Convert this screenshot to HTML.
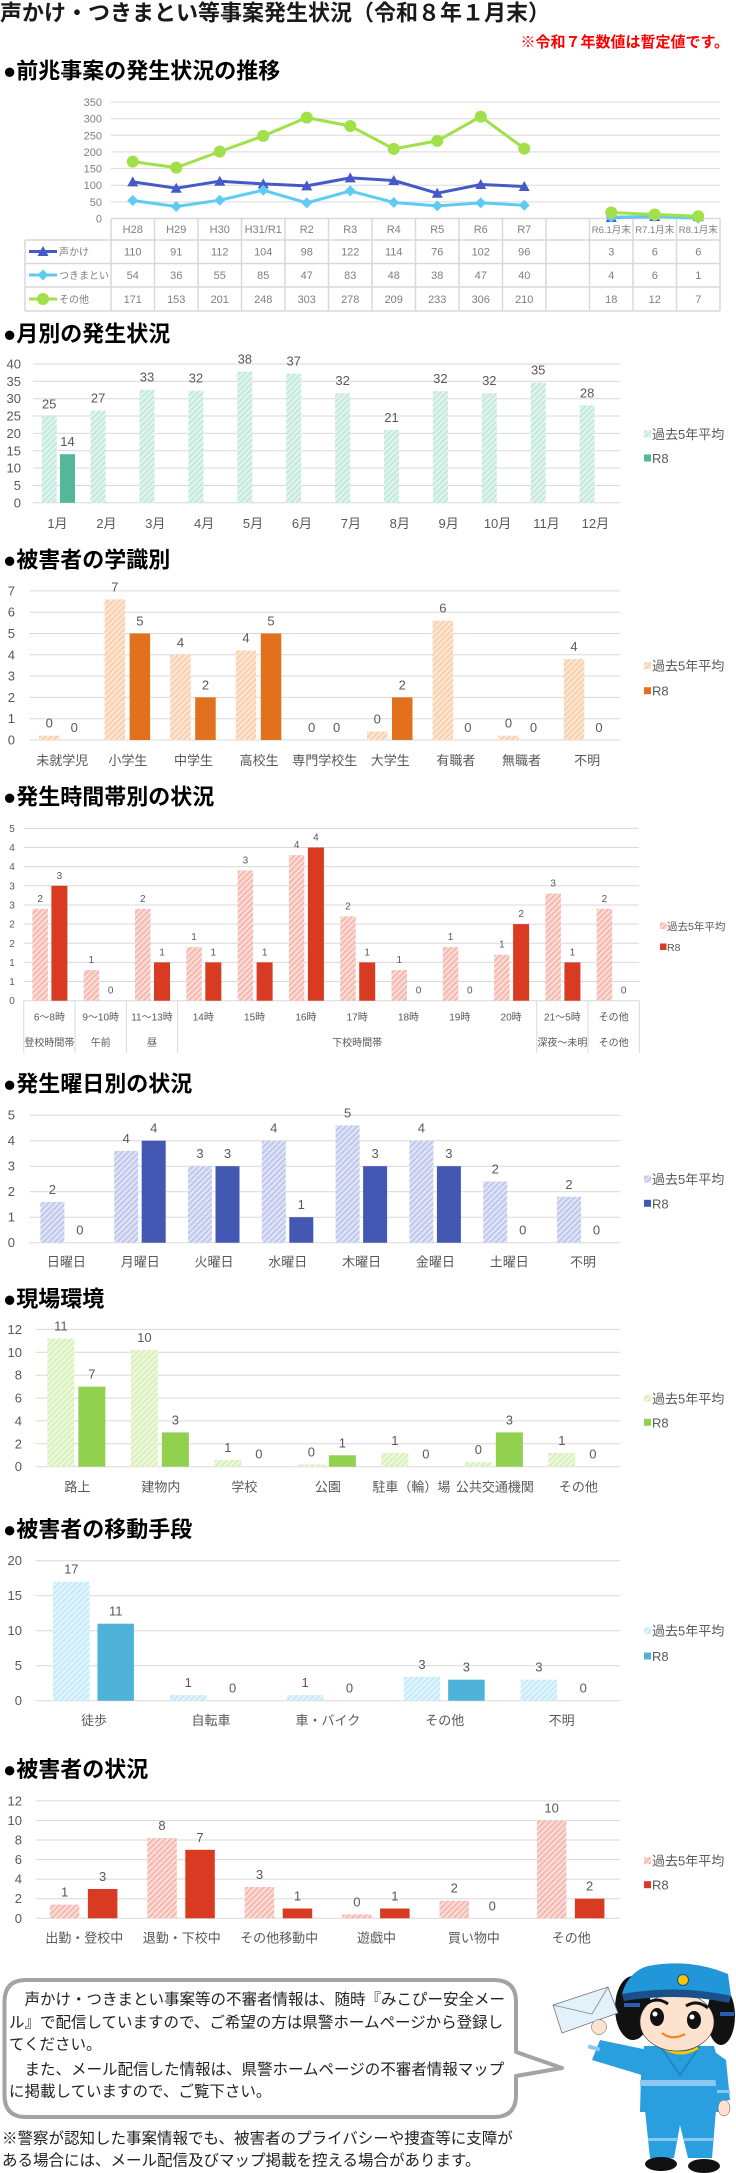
<!DOCTYPE html>
<html lang="ja">
<head>
<meta charset="utf-8">
<style>
html,body{margin:0;padding:0;background:#fff;}
body{width:736px;height:2173px;overflow:hidden;}
svg{display:block;}
text{font-family:"Liberation Sans","Noto Sans CJK JP",sans-serif;}
.h{font-size:22px;font-weight:700;fill:#000;}
.l{font-size:13px;fill:#595959;}
.s{font-size:10px;fill:#595959;}
.c1{font-size:11px;fill:#7f7f7f;}
.gl{stroke:#d9d9d9;stroke-width:1;}
.tb{stroke:#d9d9d9;stroke-width:1.5;fill:none;}
.b{font-size:15.5px;fill:#222;}
</style>
</head>
<body>
<svg width="736" height="2173" viewBox="0 0 736 2173" xmlns="http://www.w3.org/2000/svg">
<defs>
<pattern id="pG" width="4" height="4" patternUnits="userSpaceOnUse" patternTransform="rotate(45)"><rect width="4" height="4" fill="#e6f6f0"/><rect width="2.2" height="4" fill="#c2eadc"/></pattern>
<pattern id="pO" width="4" height="4" patternUnits="userSpaceOnUse" patternTransform="rotate(45)"><rect width="4" height="4" fill="#fdeadb"/><rect width="2.2" height="4" fill="#fad0ad"/></pattern>
<pattern id="pP" width="4" height="4" patternUnits="userSpaceOnUse" patternTransform="rotate(45)"><rect width="4" height="4" fill="#fbe1dd"/><rect width="2.2" height="4" fill="#f5b9b0"/></pattern>
<pattern id="pB" width="4" height="4" patternUnits="userSpaceOnUse" patternTransform="rotate(45)"><rect width="4" height="4" fill="#e4e8f8"/><rect width="2.2" height="4" fill="#c0c8ed"/></pattern>
<pattern id="pL" width="4" height="4" patternUnits="userSpaceOnUse" patternTransform="rotate(45)"><rect width="4" height="4" fill="#f0f9e3"/><rect width="2.2" height="4" fill="#d9f1ba"/></pattern>
<pattern id="pS" width="4" height="4" patternUnits="userSpaceOnUse" patternTransform="rotate(45)"><rect width="4" height="4" fill="#e7f6fd"/><rect width="2.2" height="4" fill="#c5eafa"/></pattern>
<marker id="mT" markerWidth="12" markerHeight="12" refX="6" refY="6" markerUnits="userSpaceOnUse"><path d="M6,0.5 L11.5,10.5 L0.5,10.5 Z" fill="#4659c6"/></marker>
<marker id="mD" markerWidth="12" markerHeight="12" refX="6" refY="6" markerUnits="userSpaceOnUse"><path d="M6,0.5 L11.5,6 L6,11.5 L0.5,6 Z" fill="#5ecbf3"/></marker>
<marker id="mC" markerWidth="14" markerHeight="14" refX="7" refY="7" markerUnits="userSpaceOnUse"><circle cx="7" cy="7" r="6" fill="#a2e04a"/></marker>
</defs>

<!-- Title -->
<text x="0" y="20.5" font-size="22" font-weight="700" fill="#1a1a1a">声かけ・つきまとい等事案発生状況（令和８年１月末）</text>
<text x="729" y="47" font-size="15" font-weight="700" fill="#ff0000" text-anchor="end">※令和７年数値は暫定値です。</text>

<!-- ===== Chart 1 ===== -->
<text class="h" x="3" y="78.5">●前兆事案の発生状況の推移</text>
<g class="gl">
<line x1="111" y1="201.9" x2="720" y2="201.9"/><line x1="111" y1="185.2" x2="720" y2="185.2"/>
<line x1="111" y1="168.6" x2="720" y2="168.6"/><line x1="111" y1="151.9" x2="720" y2="151.9"/>
<line x1="111" y1="135.3" x2="720" y2="135.3"/><line x1="111" y1="118.7" x2="720" y2="118.7"/>
<line x1="111" y1="102" x2="720" y2="102"/>
</g>
<g class="c1" text-anchor="end">
<text x="102" y="222.5">0</text><text x="102" y="205.9">50</text><text x="102" y="189.2">100</text>
<text x="102" y="172.6">150</text><text x="102" y="155.9">200</text><text x="102" y="139.3">250</text>
<text x="102" y="122.7">300</text><text x="102" y="106">350</text>
</g>
<!-- table -->
<g class="tb">
<line x1="111" y1="218.5" x2="720" y2="218.5"/>
<line x1="25" y1="240" x2="720" y2="240"/>
<line x1="25" y1="263.5" x2="720" y2="263.5"/>
<line x1="25" y1="287" x2="720" y2="287"/>
<line x1="25" y1="311" x2="720" y2="311"/>
<line x1="25" y1="240" x2="25" y2="311"/>
<line x1="111" y1="218.5" x2="111" y2="311"/><line x1="154.5" y1="218.5" x2="154.5" y2="311"/>
<line x1="198" y1="218.5" x2="198" y2="311"/><line x1="241.5" y1="218.5" x2="241.5" y2="311"/>
<line x1="285" y1="218.5" x2="285" y2="311"/><line x1="328.5" y1="218.5" x2="328.5" y2="311"/>
<line x1="372" y1="218.5" x2="372" y2="311"/><line x1="415.5" y1="218.5" x2="415.5" y2="311"/>
<line x1="459" y1="218.5" x2="459" y2="311"/><line x1="502.5" y1="218.5" x2="502.5" y2="311"/>
<line x1="546" y1="218.5" x2="546" y2="311"/><line x1="589.5" y1="218.5" x2="589.5" y2="311"/>
<line x1="633" y1="218.5" x2="633" y2="311"/><line x1="676.5" y1="218.5" x2="676.5" y2="311"/>
<line x1="720" y1="218.5" x2="720" y2="311"/>
</g>
<g class="c1" text-anchor="middle">
<text x="132.75" y="233">H28</text><text x="176.25" y="233">H29</text><text x="219.75" y="233">H30</text>
<text x="263.25" y="233">H31/R1</text><text x="306.75" y="233">R2</text><text x="350.25" y="233">R3</text>
<text x="393.75" y="233">R4</text><text x="437.25" y="233">R5</text><text x="480.75" y="233">R6</text>
<text x="524.25" y="233">R7</text>
<text x="611.25" y="233" font-size="9.5">R6.1月末</text><text x="654.75" y="233" font-size="9.5">R7.1月末</text><text x="698.25" y="233" font-size="9.5">R8.1月末</text>
</g>
<g class="c1" text-anchor="middle">
<text x="132.75" y="255.5">110</text><text x="176.25" y="255.5">91</text><text x="219.75" y="255.5">112</text><text x="263.25" y="255.5">104</text><text x="306.75" y="255.5">98</text><text x="350.25" y="255.5">122</text><text x="393.75" y="255.5">114</text><text x="437.25" y="255.5">76</text><text x="480.75" y="255.5">102</text><text x="524.25" y="255.5">96</text><text x="611.25" y="255.5">3</text><text x="654.75" y="255.5">6</text><text x="698.25" y="255.5">6</text>
<text x="132.75" y="279">54</text><text x="176.25" y="279">36</text><text x="219.75" y="279">55</text><text x="263.25" y="279">85</text><text x="306.75" y="279">47</text><text x="350.25" y="279">83</text><text x="393.75" y="279">48</text><text x="437.25" y="279">38</text><text x="480.75" y="279">47</text><text x="524.25" y="279">40</text><text x="611.25" y="279">4</text><text x="654.75" y="279">6</text><text x="698.25" y="279">1</text>
<text x="132.75" y="303">171</text><text x="176.25" y="303">153</text><text x="219.75" y="303">201</text><text x="263.25" y="303">248</text><text x="306.75" y="303">303</text><text x="350.25" y="303">278</text><text x="393.75" y="303">209</text><text x="437.25" y="303">233</text><text x="480.75" y="303">306</text><text x="524.25" y="303">210</text><text x="611.25" y="303">18</text><text x="654.75" y="303">12</text><text x="698.25" y="303">7</text>
</g>
<!-- legend in table -->
<line x1="29" y1="251.5" x2="57" y2="251.5" stroke="#4659c6" stroke-width="3" marker-mid="url(#mT)"/>
<polyline points="29,251.5 43,251.5 57,251.5" fill="none" stroke="#4659c6" stroke-width="3" marker-mid="url(#mT)"/>
<polyline points="29,275 43,275 57,275" fill="none" stroke="#5ecbf3" stroke-width="3" marker-mid="url(#mD)"/>
<polyline points="29,299 43,299 57,299" fill="none" stroke="#a2e04a" stroke-width="3" marker-mid="url(#mC)"/>
<g font-size="10" fill="#7f7f7f">
<text x="59" y="255.5">声かけ</text><text x="59" y="279">つきまとい</text><text x="59" y="303">その他</text>
</g>
<!-- series -->
<g fill="none" stroke-width="3" stroke-linejoin="round">
<polyline stroke="#4659c6" marker-start="url(#mT)" marker-mid="url(#mT)" marker-end="url(#mT)" points="132.75,181.9 176.25,188.2 219.75,181.2 263.25,183.9 306.75,185.9 350.25,177.9 393.75,180.5 437.25,193.2 480.75,184.5 524.25,186.5"/>
<polyline stroke="#4659c6" marker-start="url(#mT)" marker-mid="url(#mT)" marker-end="url(#mT)" points="611.25,217.5 654.75,216.5 698.25,216.5"/>
<polyline stroke="#5ecbf3" marker-start="url(#mD)" marker-mid="url(#mD)" marker-end="url(#mD)" points="132.75,200.5 176.25,206.5 219.75,200.2 263.25,190.2 306.75,202.9 350.25,190.9 393.75,202.5 437.25,205.9 480.75,202.9 524.25,205.2"/>
<polyline stroke="#5ecbf3" marker-start="url(#mD)" marker-mid="url(#mD)" marker-end="url(#mD)" points="611.25,217.2 654.75,216.5 698.25,218.2"/>
<polyline stroke="#a2e04a" marker-start="url(#mC)" marker-mid="url(#mC)" marker-end="url(#mC)" points="132.75,161.6 176.25,167.6 219.75,151.6 263.25,135.9 306.75,117.6 350.25,126 393.75,148.9 437.25,140.9 480.75,116.6 524.25,148.6"/>
<polyline stroke="#a2e04a" marker-start="url(#mC)" marker-mid="url(#mC)" marker-end="url(#mC)" points="611.25,212.5 654.75,214.5 698.25,216.2"/>
</g>

<!-- ===== Chart 2 月別 ===== -->
<text class="h" x="3" y="341.5">●月別の発生状況</text>
<g class="gl">
<line x1="33" y1="502.8" x2="620" y2="502.8"/><line x1="33" y1="485.45" x2="620" y2="485.45"/>
<line x1="33" y1="468.1" x2="620" y2="468.1"/><line x1="33" y1="450.75" x2="620" y2="450.75"/>
<line x1="33" y1="433.4" x2="620" y2="433.4"/><line x1="33" y1="416.05" x2="620" y2="416.05"/>
<line x1="33" y1="398.7" x2="620" y2="398.7"/><line x1="33" y1="381.35" x2="620" y2="381.35"/>
<line x1="33" y1="364" x2="620" y2="364"/>
</g>
<g class="l" text-anchor="end">
<text x="21" y="507.3">0</text><text x="21" y="489.95">5</text><text x="21" y="472.6">10</text>
<text x="21" y="455.25">15</text><text x="21" y="437.9">20</text><text x="21" y="420.55">25</text>
<text x="21" y="403.2">30</text><text x="21" y="385.85">35</text><text x="21" y="368.5">40</text>
</g>
<g fill="url(#pG)">
<rect x="41.7" y="416.4" width="15" height="86.4"/><rect x="90.6" y="410.5" width="15" height="92.3"/>
<rect x="139.5" y="389.7" width="15" height="113.1"/><rect x="188.4" y="390.7" width="15" height="112.1"/>
<rect x="237.3" y="371.6" width="15" height="131.2"/><rect x="286.2" y="373.7" width="15" height="129.1"/>
<rect x="335.1" y="393.1" width="15" height="109.7"/><rect x="384" y="429.9" width="15" height="72.9"/>
<rect x="432.9" y="391.1" width="15" height="111.7"/><rect x="481.8" y="393.1" width="15" height="109.7"/>
<rect x="530.7" y="382.7" width="15" height="120.1"/><rect x="579.6" y="405.3" width="15" height="97.5"/>
</g>
<rect x="60" y="454.2" width="15" height="48.6" fill="#52b899"/>
<g class="l" text-anchor="middle">
<text x="49.2" y="408.4">25</text><text x="98.1" y="402.5">27</text><text x="147" y="381.7">33</text>
<text x="195.9" y="382.7">32</text><text x="244.8" y="363.6">38</text><text x="293.7" y="365.7">37</text>
<text x="342.6" y="385.1">32</text><text x="391.5" y="421.9">21</text><text x="440.4" y="383.1">32</text>
<text x="489.3" y="385.1">32</text><text x="538.2" y="374.7">35</text><text x="587.1" y="397.3">28</text>
<text x="67.5" y="446.2">14</text>
<text x="57.45" y="528">1月</text><text x="106.35" y="528">2月</text><text x="155.25" y="528">3月</text>
<text x="204.15" y="528">4月</text><text x="253.05" y="528">5月</text><text x="301.95" y="528">6月</text>
<text x="350.85" y="528">7月</text><text x="399.75" y="528">8月</text><text x="448.65" y="528">9月</text>
<text x="497.55" y="528">10月</text><text x="546.45" y="528">11月</text><text x="595.35" y="528">12月</text>
</g>
<rect x="644" y="430.5" width="7" height="7" fill="url(#pG)"/>
<rect x="644" y="454.5" width="7" height="7" fill="#52b899"/>
<g class="l"><text x="652" y="439">過去5年平均</text><text x="652" y="463">R8</text></g>

<!-- ===== Chart 3 学識別 ===== -->
<text class="h" x="3" y="567.5">●被害者の学識別</text>
<g class="gl">
<line x1="29.5" y1="740" x2="620" y2="740"/><line x1="29.5" y1="718.7" x2="620" y2="718.7"/>
<line x1="29.5" y1="697.4" x2="620" y2="697.4"/><line x1="29.5" y1="676.1" x2="620" y2="676.1"/>
<line x1="29.5" y1="654.8" x2="620" y2="654.8"/><line x1="29.5" y1="633.5" x2="620" y2="633.5"/>
<line x1="29.5" y1="612.2" x2="620" y2="612.2"/><line x1="29.5" y1="590.9" x2="620" y2="590.9"/>
</g>
<g class="l" text-anchor="end">
<text x="15" y="744.5">0</text><text x="15" y="723.2">1</text><text x="15" y="701.9">2</text><text x="15" y="680.6">3</text>
<text x="15" y="659.3">4</text><text x="15" y="638">5</text><text x="15" y="616.7">6</text><text x="15" y="595.4">7</text>
</g>
<g fill="url(#pO)">
<rect x="39" y="735.7" width="20.5" height="4.3"/><rect x="104.6" y="599.4" width="20.5" height="140.6"/>
<rect x="170.2" y="654.8" width="20.5" height="85.2"/><rect x="235.8" y="650.5" width="20.5" height="89.5"/>
<rect x="367" y="731.5" width="20.5" height="8.5"/><rect x="432.6" y="620.7" width="20.5" height="119.3"/>
<rect x="498.2" y="735.7" width="20.5" height="4.3"/><rect x="563.8" y="659.1" width="20.5" height="80.9"/>
</g>
<g fill="#e2711d">
<rect x="129.6" y="633.5" width="20.5" height="106.5"/><rect x="195.2" y="697.4" width="20.5" height="42.6"/>
<rect x="260.8" y="633.5" width="20.5" height="106.5"/><rect x="392" y="697.4" width="20.5" height="42.6"/>
</g>
<g class="l" text-anchor="middle">
<text x="49.25" y="727.7">0</text><text x="114.85" y="591.4">7</text><text x="180.45" y="646.8">4</text>
<text x="246.05" y="642.5">4</text><text x="311.65" y="732">0</text><text x="377.25" y="723.5">0</text>
<text x="442.85" y="612.7">6</text><text x="508.45" y="727.7">0</text><text x="574.05" y="651.1">4</text>
<text x="74.25" y="732">0</text><text x="139.85" y="625.5">5</text><text x="205.45" y="689.4">2</text>
<text x="271.05" y="625.5">5</text><text x="336.65" y="732">0</text><text x="402.25" y="689.4">2</text>
<text x="467.85" y="732">0</text><text x="533.45" y="732">0</text><text x="599.05" y="732">0</text>
<text x="62.3" y="765">未就学児</text><text x="127.9" y="765">小学生</text><text x="193.5" y="765">中学生</text>
<text x="259.1" y="765">高校生</text><text x="324.7" y="765">専門学校生</text><text x="390.3" y="765">大学生</text>
<text x="455.9" y="765">有職者</text><text x="521.5" y="765">無職者</text><text x="587.1" y="765">不明</text>
</g>
<rect x="644" y="662.2" width="7" height="7" fill="url(#pO)"/>
<rect x="644" y="687.2" width="7" height="7" fill="#e2711d"/>
<g class="l"><text x="652" y="670.7">過去5年平均</text><text x="652" y="695.7">R8</text></g>

<!-- ===== Chart 4 時間帯 ===== -->
<text class="h" x="3" y="804.5">●発生時間帯別の状況</text>
<g class="gl">
<line x1="23.75" y1="1000.7" x2="639" y2="1000.7"/><line x1="23.75" y1="981.55" x2="639" y2="981.55"/>
<line x1="23.75" y1="962.4" x2="639" y2="962.4"/><line x1="23.75" y1="943.25" x2="639" y2="943.25"/>
<line x1="23.75" y1="924.1" x2="639" y2="924.1"/><line x1="23.75" y1="904.95" x2="639" y2="904.95"/>
<line x1="23.75" y1="885.8" x2="639" y2="885.8"/><line x1="23.75" y1="866.65" x2="639" y2="866.65"/>
<line x1="23.75" y1="847.5" x2="639" y2="847.5"/><line x1="23.75" y1="828.35" x2="639" y2="828.35"/>
<line x1="23.75" y1="1000.7" x2="23.75" y2="1053"/><line x1="75.05" y1="1000.7" x2="75.05" y2="1053"/>
<line x1="126.35" y1="1000.7" x2="126.35" y2="1053"/><line x1="177.65" y1="1000.7" x2="177.65" y2="1053"/>
<line x1="536.75" y1="1000.7" x2="536.75" y2="1053"/><line x1="588.05" y1="1000.7" x2="588.05" y2="1053"/>
<line x1="639.35" y1="1000.7" x2="639.35" y2="1053"/>
</g>
<g class="s" text-anchor="middle">
<text x="12" y="1004.2">0</text><text x="12" y="985.05">1</text><text x="12" y="965.9">1</text>
<text x="12" y="946.75">2</text><text x="12" y="927.6">2</text><text x="12" y="908.45">3</text>
<text x="12" y="889.3">3</text><text x="12" y="870.15">4</text><text x="12" y="851">4</text><text x="12" y="831.85">5</text>
</g>
<g fill="url(#pP)">
<rect x="32.4" y="908.8" width="15.5" height="91.9"/><rect x="83.7" y="970.1" width="15.5" height="30.6"/>
<rect x="135" y="908.8" width="15.5" height="91.9"/><rect x="186.3" y="947.1" width="15.5" height="53.6"/>
<rect x="237.6" y="870.5" width="15.5" height="130.2"/><rect x="288.9" y="855.2" width="15.5" height="145.5"/>
<rect x="340.2" y="916.4" width="15.5" height="84.3"/><rect x="391.5" y="970.1" width="15.5" height="30.6"/>
<rect x="442.8" y="947.1" width="15.5" height="53.6"/><rect x="494.1" y="954.7" width="15.5" height="46"/>
<rect x="545.4" y="893.5" width="15.5" height="107.2"/><rect x="596.7" y="908.8" width="15.5" height="91.9"/>
</g>
<g fill="#d83a22">
<rect x="51.4" y="885.8" width="16" height="114.9"/><rect x="154" y="962.4" width="16" height="38.3"/>
<rect x="205.3" y="962.4" width="16" height="38.3"/><rect x="256.6" y="962.4" width="16" height="38.3"/>
<rect x="307.9" y="847.5" width="16" height="153.2"/><rect x="359.2" y="962.4" width="16" height="38.3"/>
<rect x="513.1" y="924.1" width="16" height="76.6"/><rect x="564.4" y="962.4" width="16" height="38.3"/>
</g>
<g class="s" text-anchor="middle">
<text x="40.15" y="901.8">2</text><text x="91.45" y="963.1">1</text><text x="142.75" y="901.8">2</text>
<text x="194.05" y="940.1">1</text><text x="245.35" y="863.5">3</text><text x="296.65" y="848.2">4</text>
<text x="347.95" y="909.4">2</text><text x="399.25" y="963.1">1</text><text x="450.55" y="940.1">1</text>
<text x="501.85" y="947.7">1</text><text x="553.15" y="886.5">3</text><text x="604.45" y="901.8">2</text>
<text x="59.4" y="878.8">3</text><text x="110.7" y="993.7">0</text><text x="162" y="955.4">1</text>
<text x="213.3" y="955.4">1</text><text x="264.6" y="955.4">1</text><text x="315.9" y="840.5">4</text>
<text x="367.2" y="955.4">1</text><text x="418.5" y="993.7">0</text><text x="469.8" y="993.7">0</text>
<text x="521.1" y="917.1">2</text><text x="572.4" y="955.4">1</text><text x="623.7" y="993.7">0</text>
<text x="49.4" y="1020.5">6～8時</text><text x="100.7" y="1020.5">9～10時</text><text x="152" y="1020.5">11～13時</text>
<text x="203.3" y="1020.5">14時</text><text x="254.6" y="1020.5">15時</text><text x="305.9" y="1020.5">16時</text>
<text x="357.2" y="1020.5">17時</text><text x="408.5" y="1020.5">18時</text><text x="459.8" y="1020.5">19時</text>
<text x="511.1" y="1020.5">20時</text><text x="562.4" y="1020.5">21～5時</text><text x="613.7" y="1020.5">その他</text>
<text x="49.4" y="1046">登校時間帯</text><text x="100.7" y="1046">午前</text><text x="152" y="1046">昼</text>
<text x="357.2" y="1046">下校時間帯</text><text x="562.4" y="1046">深夜～未明</text><text x="613.7" y="1046">その他</text>
</g>
<rect x="660" y="922.5" width="6.5" height="6.5" fill="url(#pP)"/>
<rect x="660" y="943.5" width="6.5" height="6.5" fill="#d83a22"/>
<g font-size="10.5" fill="#595959"><text x="667" y="930">過去5年平均</text><text x="667" y="951">R8</text></g>

<!-- ===== Chart 5 曜日 ===== -->
<text class="h" x="3" y="1091.5">●発生曜日別の状況</text>
<g class="gl">
<line x1="29.5" y1="1242.7" x2="620" y2="1242.7"/><line x1="29.5" y1="1217.2" x2="620" y2="1217.2"/>
<line x1="29.5" y1="1191.7" x2="620" y2="1191.7"/><line x1="29.5" y1="1166.2" x2="620" y2="1166.2"/>
<line x1="29.5" y1="1140.7" x2="620" y2="1140.7"/><line x1="29.5" y1="1115.2" x2="620" y2="1115.2"/>
</g>
<g class="l" text-anchor="end">
<text x="15" y="1247.2">0</text><text x="15" y="1221.7">1</text><text x="15" y="1196.2">2</text>
<text x="15" y="1170.7">3</text><text x="15" y="1145.2">4</text><text x="15" y="1119.7">5</text>
</g>
<g fill="url(#pB)">
<rect x="40.4" y="1201.9" width="24" height="40.8"/><rect x="114.2" y="1150.9" width="24" height="91.8"/>
<rect x="188" y="1166.2" width="24" height="76.5"/><rect x="261.8" y="1140.7" width="24" height="102"/>
<rect x="335.6" y="1125.4" width="24" height="117.3"/><rect x="409.4" y="1140.7" width="24" height="102"/>
<rect x="483.2" y="1181.5" width="24" height="61.2"/><rect x="557" y="1196.8" width="24" height="45.9"/>
</g>
<g fill="#4358b2">
<rect x="141.7" y="1140.7" width="24" height="102"/><rect x="215.5" y="1166.2" width="24" height="76.5"/>
<rect x="289.3" y="1217.2" width="24" height="25.5"/><rect x="363.1" y="1166.2" width="24" height="76.5"/>
<rect x="436.9" y="1166.2" width="24" height="76.5"/>
</g>
<g class="l" text-anchor="middle">
<text x="52.4" y="1193.9">2</text><text x="126.2" y="1142.9">4</text><text x="200" y="1158.2">3</text>
<text x="273.8" y="1132.7">4</text><text x="347.6" y="1117.4">5</text><text x="421.4" y="1132.7">4</text>
<text x="495.2" y="1173.5">2</text><text x="569" y="1188.8">2</text>
<text x="79.9" y="1234.7">0</text><text x="153.7" y="1132.7">4</text><text x="227.5" y="1158.2">3</text>
<text x="301.3" y="1209.2">1</text><text x="375.1" y="1158.2">3</text><text x="448.9" y="1158.2">3</text>
<text x="522.7" y="1234.7">0</text><text x="596.5" y="1234.7">0</text>
<text x="66.4" y="1266.5">日曜日</text><text x="140.2" y="1266.5">月曜日</text><text x="214" y="1266.5">火曜日</text>
<text x="287.8" y="1266.5">水曜日</text><text x="361.6" y="1266.5">木曜日</text><text x="435.4" y="1266.5">金曜日</text>
<text x="509.2" y="1266.5">土曜日</text><text x="583" y="1266.5">不明</text>
</g>
<rect x="644" y="1175.5" width="7" height="7" fill="url(#pB)"/>
<rect x="644" y="1199.8" width="7" height="7" fill="#4358b2"/>
<g class="l"><text x="652" y="1184">過去5年平均</text><text x="652" y="1208.3">R8</text></g>

<!-- ===== Chart 6 現場環境 ===== -->
<text class="h" x="3" y="1306.5">●現場環境</text>
<g class="gl">
<line x1="35.6" y1="1466.7" x2="620" y2="1466.7"/><line x1="35.6" y1="1443.8" x2="620" y2="1443.8"/>
<line x1="35.6" y1="1420.9" x2="620" y2="1420.9"/><line x1="35.6" y1="1398.1" x2="620" y2="1398.1"/>
<line x1="35.6" y1="1375.2" x2="620" y2="1375.2"/><line x1="35.6" y1="1352.3" x2="620" y2="1352.3"/>
<line x1="35.6" y1="1329.4" x2="620" y2="1329.4"/>
</g>
<g class="l" text-anchor="end">
<text x="22" y="1471.2">0</text><text x="22" y="1448.3">2</text><text x="22" y="1425.4">4</text>
<text x="22" y="1402.6">6</text><text x="22" y="1379.7">8</text><text x="22" y="1356.8">10</text><text x="22" y="1333.9">12</text>
</g>
<g fill="url(#pL)">
<rect x="47.35" y="1338.6" width="27" height="128.1"/><rect x="130.85" y="1350" width="27" height="116.7"/>
<rect x="214.35" y="1459.8" width="27" height="6.9"/><rect x="297.85" y="1464.4" width="27" height="2.3"/>
<rect x="381.35" y="1453" width="27" height="13.7"/><rect x="464.85" y="1462.1" width="27" height="4.6"/>
<rect x="548.35" y="1453" width="27" height="13.7"/>
</g>
<g fill="#92d050">
<rect x="78.35" y="1386.6" width="27" height="80.1"/><rect x="161.85" y="1432.4" width="27" height="34.3"/>
<rect x="328.85" y="1455.3" width="27" height="11.4"/><rect x="495.85" y="1432.4" width="27" height="34.3"/>
</g>
<g class="l" text-anchor="middle">
<text x="60.85" y="1330.6">11</text><text x="144.35" y="1342">10</text><text x="227.85" y="1451.8">1</text>
<text x="311.35" y="1456.4">0</text><text x="394.85" y="1445">1</text><text x="478.35" y="1454.1">0</text>
<text x="561.85" y="1445">1</text>
<text x="91.85" y="1378.6">7</text><text x="175.35" y="1424.4">3</text><text x="258.85" y="1458.7">0</text>
<text x="342.35" y="1447.3">1</text><text x="425.85" y="1458.7">0</text><text x="509.35" y="1424.4">3</text>
<text x="592.85" y="1458.7">0</text>
<text x="77.35" y="1491.5">路上</text><text x="160.85" y="1491.5">建物内</text><text x="244.35" y="1491.5">学校</text>
<text x="327.85" y="1491.5">公園</text><text x="411.35" y="1491.5">駐車（輪）場</text><text x="494.85" y="1491.5">公共交通機関</text>
<text x="578.35" y="1491.5">その他</text>
</g>
<rect x="644" y="1394.8" width="7" height="7" fill="url(#pL)"/>
<rect x="644" y="1418.8" width="7" height="7" fill="#92d050"/>
<g class="l"><text x="652" y="1403.3">過去5年平均</text><text x="652" y="1427.3">R8</text></g>

<!-- ===== Chart 7 移動手段 ===== -->
<text class="h" x="3" y="1537">●被害者の移動手段</text>
<g class="gl">
<line x1="35.6" y1="1700.7" x2="620" y2="1700.7"/><line x1="35.6" y1="1665.7" x2="620" y2="1665.7"/>
<line x1="35.6" y1="1630.7" x2="620" y2="1630.7"/><line x1="35.6" y1="1595.7" x2="620" y2="1595.7"/>
<line x1="35.6" y1="1560.7" x2="620" y2="1560.7"/>
</g>
<g class="l" text-anchor="end">
<text x="22" y="1705.2">0</text><text x="22" y="1670.2">5</text><text x="22" y="1635.2">10</text>
<text x="22" y="1600.2">15</text><text x="22" y="1565.2">20</text>
</g>
<g fill="url(#pS)">
<rect x="53.05" y="1581.7" width="36.5" height="119"/><rect x="169.95" y="1695.1" width="36.5" height="5.6"/>
<rect x="286.85" y="1695.1" width="36.5" height="5.6"/><rect x="403.75" y="1676.9" width="36.5" height="23.8"/>
<rect x="520.65" y="1679.7" width="36.5" height="21"/>
</g>
<g fill="#4fb3d9">
<rect x="97.45" y="1623.7" width="36.5" height="77"/><rect x="448.15" y="1679.7" width="36.5" height="21"/>
</g>
<g class="l" text-anchor="middle">
<text x="71.3" y="1573.7">17</text><text x="188.2" y="1687.1">1</text><text x="305.1" y="1687.1">1</text>
<text x="422" y="1668.9">3</text><text x="538.9" y="1671.7">3</text>
<text x="115.7" y="1615.7">11</text><text x="232.6" y="1692.7">0</text><text x="349.5" y="1692.7">0</text>
<text x="466.4" y="1671.7">3</text><text x="583.3" y="1692.7">0</text>
<text x="94.05" y="1725">徒歩</text><text x="210.95" y="1725">自転車</text><text x="327.85" y="1725">車・バイク</text>
<text x="444.75" y="1725">その他</text><text x="561.65" y="1725">不明</text>
</g>
<rect x="644" y="1627.2" width="7" height="7" fill="url(#pS)"/>
<rect x="644" y="1652.5" width="7" height="7" fill="#4fb3d9"/>
<g class="l"><text x="652" y="1635.7">過去5年平均</text><text x="652" y="1661">R8</text></g>

<!-- ===== Chart 8 被害者の状況 ===== -->
<text class="h" x="3" y="1777">●被害者の状況</text>
<g class="gl">
<line x1="35.6" y1="1918.3" x2="620" y2="1918.3"/><line x1="35.6" y1="1898.7" x2="620" y2="1898.7"/>
<line x1="35.6" y1="1879.1" x2="620" y2="1879.1"/><line x1="35.6" y1="1859.6" x2="620" y2="1859.6"/>
<line x1="35.6" y1="1840" x2="620" y2="1840"/><line x1="35.6" y1="1820.5" x2="620" y2="1820.5"/>
<line x1="35.6" y1="1800.9" x2="620" y2="1800.9"/>
</g>
<g class="l" text-anchor="end">
<text x="22" y="1922.8">0</text><text x="22" y="1903.2">2</text><text x="22" y="1883.6">4</text>
<text x="22" y="1864.1">6</text><text x="22" y="1844.5">8</text><text x="22" y="1825">10</text><text x="22" y="1805.4">12</text>
</g>
<g fill="url(#pP)">
<rect x="49.9" y="1904.6" width="29.5" height="13.7"/><rect x="147.3" y="1838.1" width="29.5" height="80.2"/>
<rect x="244.7" y="1887" width="29.5" height="31.3"/><rect x="342.1" y="1914.4" width="29.5" height="3.9"/>
<rect x="439.5" y="1900.7" width="29.5" height="17.6"/><rect x="536.9" y="1820.5" width="29.5" height="97.8"/>
</g>
<g fill="#d83a22">
<rect x="87.9" y="1889" width="29.5" height="29.3"/><rect x="185.3" y="1849.8" width="29.5" height="68.5"/>
<rect x="282.7" y="1908.5" width="29.5" height="9.8"/><rect x="380.1" y="1908.5" width="29.5" height="9.8"/>
<rect x="574.9" y="1898.7" width="29.5" height="19.6"/>
</g>
<g class="l" text-anchor="middle">
<text x="64.65" y="1896.6">1</text><text x="162.05" y="1830.1">8</text><text x="259.45" y="1879">3</text>
<text x="356.85" y="1906.4">0</text><text x="454.25" y="1892.7">2</text><text x="551.65" y="1812.5">10</text>
<text x="102.65" y="1881">3</text><text x="200.05" y="1841.8">7</text><text x="297.45" y="1900.5">1</text>
<text x="394.85" y="1900.5">1</text><text x="492.25" y="1910.3">0</text><text x="589.65" y="1890.7">2</text>
<text x="84.3" y="1942.5">出勤・登校中</text><text x="181.7" y="1942.5">退勤・下校中</text><text x="279.1" y="1942.5">その他移動中</text>
<text x="376.5" y="1942.5">遊戯中</text><text x="473.9" y="1942.5">買い物中</text><text x="571.3" y="1942.5">その他</text>
</g>
<rect x="644" y="1857.2" width="7" height="7" fill="url(#pP)"/>
<rect x="644" y="1881.2" width="7" height="7" fill="#d83a22"/>
<g class="l"><text x="652" y="1865.7">過去5年平均</text><text x="652" y="1889.7">R8</text></g>

<!-- ===== Speech bubble ===== -->
<path d="M26,1980 H494 Q516,1980 516,2002 V2052 L562,2068 L516,2076 V2095 Q516,2117 494,2117 H26 Q4.5,2117 4.5,2095 V2002 Q4.5,1980 26,1980 Z" fill="#fff" stroke="#a3a3a3" stroke-width="4" stroke-linejoin="round"/>
<g class="b">
<text x="9" y="2004.5">　声かけ・つきまとい事案等の不審者情報は、随時『みこぴー安全メー</text>
<text x="9" y="2027.5">ル』で配信していますので、ご希望の方は県警ホームページから登録し</text>
<text x="9" y="2049.5">てください。</text>
<text x="9" y="2074.5">　また、メール配信した情報は、県警ホームページの不審者情報マップ</text>
<text x="9" y="2096.5">に掲載していますので、ご覧下さい。</text>
<text x="2" y="2143.5">※警察が認知した事案情報でも、被害者のプライバシーや捜査等に支障が</text>
<text x="2" y="2165.5">ある場合には、メール配信及びマップ掲載を控える場合があります。</text>
</g>

<!-- ===== Mascot ===== -->
<g>
<!-- hair back -->
<ellipse cx="633" cy="2008" rx="18" ry="32" fill="#111"/>
<ellipse cx="721" cy="2016" rx="14" ry="29" fill="#111"/>
<!-- envelope -->
<polygon points="553,2005 608,1987 618,2013 562,2033" fill="#e3f1fb" stroke="#777" stroke-width="0.8"/>
<polyline points="553,2005 592,2014 608,1987" fill="none" stroke="#888" stroke-width="0.8"/>
<!-- raised arm -->
<path d="M648,2050 L600,2040 L592,2060 L645,2076 Z" fill="#2a9fe0"/>
<rect x="588" y="2046" width="12" height="4" fill="#8cc8f0" transform="rotate(15 594 2048)"/>
<circle cx="599" cy="2027" r="7.5" fill="#fde3cf" stroke="#555" stroke-width="0.5"/>
<!-- body -->
<path d="M644,2046 L714,2046 L722,2075 L719,2112 L640,2112 L641,2075 Z" fill="#2a9fe0"/>
<path d="M660,2046 L680,2075 L700,2046" fill="none" stroke="#1a7fc0" stroke-width="1.5"/>
<rect x="640" y="2080" width="82" height="6" fill="#8cc8f0"/>
<!-- right arm -->
<path d="M712,2050 L726,2060 L730,2100 L718,2102 Z" fill="#2a9fe0"/>
<rect x="717" y="2090" width="13" height="3" fill="#8cc8f0"/>
<ellipse cx="724" cy="2108" rx="6" ry="8" fill="#fde3cf" stroke="#555" stroke-width="0.5"/>
<!-- legs -->
<path d="M645,2110 L716,2110 L712,2158 L688,2158 L680,2125 L674,2158 L650,2158 Z" fill="#2a9fe0"/>
<rect x="648" y="2138" width="30" height="3" fill="#8cc8f0"/>
<rect x="684" y="2138" width="30" height="3" fill="#8cc8f0"/>
<ellipse cx="661" cy="2164" rx="16" ry="7" fill="#111"/>
<ellipse cx="704" cy="2166" rx="16" ry="7" fill="#111"/>
<!-- collar/badge -->
<path d="M664,2048 Q680,2058 698,2048" fill="none" stroke="#f5c800" stroke-width="3"/>
<!-- face -->
<ellipse cx="677" cy="2022" rx="37" ry="29" fill="#fde3cf" stroke="#333" stroke-width="0.6"/>
<path d="M646,2004 Q657,1996 668,2004" fill="none" stroke="#111" stroke-width="3"/>
<path d="M686,2006 Q697,1999 708,2008" fill="none" stroke="#111" stroke-width="3"/>
<ellipse cx="657" cy="2017" rx="7" ry="9" fill="#111"/>
<ellipse cx="694" cy="2020" rx="7" ry="9" fill="#111"/>
<circle cx="655" cy="2014" r="2.5" fill="#fff"/>
<circle cx="692" cy="2017" r="2.5" fill="#fff"/>
<path d="M662,2033 Q672,2041 685,2034" fill="none" stroke="#f08a1c" stroke-width="2.2"/>
<!-- hat -->
<path d="M622,1994 Q628,1972 648,1966 Q690,1958 728,1974 L731,1996 Q680,1985 622,1994 Z" fill="#2196d8"/>
<path d="M622,1994 Q680,1984 731,1996 L729,2003 Q680,1992 624,2001 Z" fill="#1a4f8a"/>
<circle cx="683" cy="1980" r="5.5" fill="#f5c800" stroke="#1a4f8a" stroke-width="1"/>
<rect x="624" y="2003" width="16" height="4" fill="#2a5fb0"/>
<rect x="720" y="2012" width="14" height="4" fill="#2a5fb0"/>
</g>
</svg>
</body>
</html>
